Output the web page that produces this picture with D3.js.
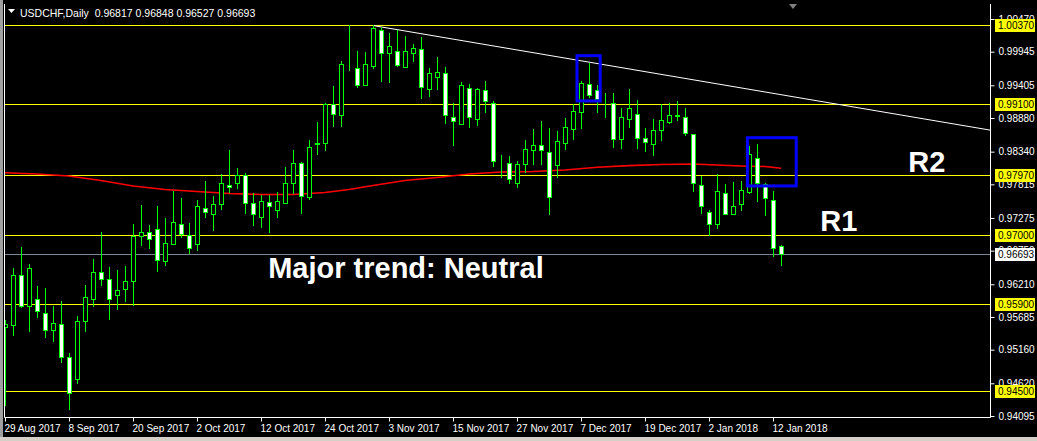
<!DOCTYPE html>
<html><head><meta charset="utf-8">
<script src="https://cdn.jsdelivr.net/npm/d3@7"></script>
<style>html,body{margin:0;padding:0;background:#000;overflow:hidden}svg{display:block}</style>
</head><body><svg id="c" width="1037" height="441"></svg>
<script>
// ---------- DATA ----------
const symbolTitle = "USDCHF,Daily";
const lastOHLC = ["0.96817", "0.96848", "0.96527", "0.96693"];
const opens = [0.95524,0.95552,0.96354,0.95862,0.95969,0.95744,0.95476,0.95568,0.95038,0.94694,
0.95616,0.95979,0.96403,0.96290,0.96033,0.96130,0.96258,0.96986,0.97050,0.97093,
0.96579,0.96852,0.97174,0.96997,0.96852,0.97440,0.97334,0.97495,0.97800,0.97832,
0.97965,0.97511,0.97296,0.97527,0.97398,0.97520,0.97832,0.98153,0.97607,0.98463,
0.98484,0.99101,0.98934,0.99716,0.99679,0.99415,0.99720,1.00294,0.99920,0.99952,
0.99704,0.99920,0.99984,0.99351,0.99544,0.99598,0.98902,0.98789,0.99367,0.98869,
0.99335,0.99126,0.98185,0.98153,0.97842,0.98137,0.98362,0.98442,0.98330,0.98121,
0.98474,0.98699,0.98972,0.99422,0.99325,0.99117,0.99117,0.98539,0.98869,0.98940,
0.98555,0.98458,0.98683,0.98812,0.98917,0.98892,0.98619,0.97800,0.97366,0.97174,
0.97671,0.97334,0.97495,0.97687,0.98233,0.97816,0.97559,0.96817];
const highs = [0.95637,0.96472,0.96804,0.96536,0.96183,0.96151,0.95862,0.95937,0.95102,0.95701,
0.96194,0.96611,0.97050,0.96483,0.96440,0.96504,0.97178,0.97483,0.97162,0.97467,
0.97275,0.97708,0.97596,0.97199,0.97564,0.97864,0.97628,0.97981,0.98367,0.98078,
0.97993,0.97671,0.97639,0.97639,0.97692,0.98094,0.98367,0.98174,0.98527,0.98816,
0.99117,0.99394,0.99801,1.00374,0.99957,0.99940,1.00379,1.00347,1.00241,1.00299,
1.00193,1.00069,1.00177,0.99679,0.99860,0.99700,0.99117,0.99459,0.99422,0.99367,
0.99475,0.99154,0.98282,0.98270,0.98185,0.98527,0.98699,0.98828,0.98715,0.98667,
0.98876,0.99101,0.99470,0.99769,0.99406,0.99277,0.99277,0.99036,0.99342,0.99165,
0.98715,0.98860,0.99101,0.99117,0.99149,0.99036,0.98619,0.97944,0.97398,0.97977,
0.97816,0.97848,0.97864,0.98426,0.98458,0.97832,0.97704,0.96848];
const lows = [0.94272,0.95391,0.95841,0.95465,0.95680,0.95359,0.95295,0.94962,0.94212,0.94630,
0.95455,0.95862,0.96194,0.95658,0.95809,0.95947,0.95882,0.96841,0.96793,0.96428,
0.96525,0.96852,0.96965,0.96708,0.96761,0.97286,0.97087,0.97424,0.97697,0.97752,
0.97350,0.97167,0.97125,0.97055,0.97296,0.97511,0.97671,0.97360,0.97575,0.98302,
0.98367,0.98752,0.98752,0.99651,0.99383,0.99411,0.99688,0.99480,0.99464,0.99720,
0.99704,0.99801,0.99202,0.99234,0.99346,0.98805,0.98452,0.98789,0.98741,0.98773,
0.98982,0.98115,0.97938,0.97832,0.97777,0.98018,0.98137,0.98137,0.97344,0.97928,
0.98378,0.98548,0.98725,0.99213,0.98972,0.98902,0.98420,0.98394,0.98731,0.98394,
0.98346,0.98282,0.98523,0.98796,0.98844,0.98603,0.97704,0.97350,0.96997,0.97109,
0.97334,0.97334,0.97398,0.97671,0.97543,0.97318,0.96660,0.96527];
const closes = [0.95572,0.96354,0.95862,0.96467,0.95776,0.95476,0.95584,0.95038,0.94460,0.95616,
0.96001,0.96403,0.96290,0.95969,0.96114,0.96258,0.96986,0.97050,0.96942,0.96600,
0.96868,0.97206,0.97018,0.96788,0.97463,0.97366,0.97495,0.97832,0.97768,0.97965,
0.97511,0.97334,0.97543,0.97463,0.97543,0.97832,0.98153,0.97628,0.98410,0.98479,
0.99101,0.98945,0.99748,0.99720,0.99415,0.99748,1.00326,0.99929,1.00032,0.99737,
0.99952,1.00000,0.99383,0.99598,0.99615,0.98934,0.98828,0.99406,0.98902,0.99342,
0.99149,0.98195,0.98190,0.97896,0.98137,0.98378,0.98442,0.98362,0.97607,0.98506,
0.98731,0.98988,0.99438,0.99245,0.99181,0.99114,0.98539,0.98892,0.99036,0.98555,
0.98490,0.98683,0.98844,0.98924,0.98924,0.98635,0.97832,0.97463,0.97174,0.97704,
0.97334,0.97463,0.97720,0.98298,0.97832,0.97591,0.96788,0.96693];

// moving average (red) read at a few bars
const maBars = [0,4,8,12,16,20,24,28,32,36,40,43,46,50,54,58,62,66,70,74,78,82,86,89,92,95,97];
const maVals = [0.98002,0.97981,0.97949,0.97877,0.97789,0.97732,0.97700,0.97668,0.97652,0.97652,0.97684,0.97732,0.97797,0.97877,0.97925,0.97981,0.98013,0.98021,0.98046,0.98089,0.98115,0.98134,0.98142,0.98126,0.98110,0.98102,0.98073];

// x axis labels and the bar they sit on
const xTickLabels = ["29 Aug 2017","8 Sep 2017","20 Sep 2017","2 Oct 2017","12 Oct 2017","24 Oct 2017","3 Nov 2017","15 Nov 2017","27 Nov 2017","7 Dec 2017","19 Dec 2017","2 Jan 2018","12 Jan 2018"];
const xTickBars = [0,8,16,24,32,40,48,56,64,72,80,88,96];

// price scale ticks
const yTicks = [1.00470,0.99945,0.99405,0.98880,0.98340,0.97815,0.97275,0.96750,0.96210,0.95685,0.95160,0.94620,0.94095];

// horizontal support / resistance levels
const levels = [1.00370,0.99100,0.97970,0.97000,0.95900,0.94500];
const lastPrice = 0.96693;

// trendline (bar, price)
const trendBars = [46,124];
const trendVals = [1.00365,0.98667];

// blue boxes [bar0, bar1, priceTop, priceBottom]
const boxBar0 = [71.5, 92.8];
const boxBar1 = [74.4, 98.9];
const boxTop = [0.99881, 0.98564];
const boxBottom = [0.99154, 0.97789];

// text annotations
const noteTexts = ["Major trend: Neutral","R2","R1"];
const noteBars = [32.9, 112.9, 101.9];
const noteVals = [0.96308, 0.98015, 0.97068];

// ---------- DRAW ----------
const svg = d3.select("#c");
const W = 1037, H = 441;
const L = 4, R = 990, T = 4, B = 417;
const green = "#00ff00", yellow = "#ffff00";

svg.append("rect").attr("width", W).attr("height", H).attr("fill", "#000");
// window frame strips
svg.append("rect").attr("x",0).attr("y",0).attr("width",3).attr("height",H).attr("fill","#a0a0a0");
svg.append("rect").attr("x",0).attr("y",437).attr("width",W).attr("height",4).attr("fill","#d4d0c8");

const x = d3.scaleLinear().domain([0, 97]).range([5, 781]);
const y = d3.scaleLinear().domain([0.94095, 1.00470]).range([416, 19]);
const px = v => Math.round(v);

svg.append("defs").append("clipPath").attr("id","clip")
  .append("rect").attr("x", L+1).attr("y", T+1).attr("width", R-L-1).attr("height", B-T-1);
const plot = svg.append("g").attr("clip-path","url(#clip)");

// levels
plot.selectAll("line.lev").data(levels).join("line")
  .attr("x1", L).attr("x2", R)
  .attr("y1", d => px(y(d))+0.5).attr("y2", d => px(y(d))+0.5)
  .attr("stroke", yellow).attr("stroke-width", 1);
plot.append("line").attr("x1", L).attr("x2", R)
  .attr("y1", px(y(lastPrice))+0.5).attr("y2", px(y(lastPrice))+0.5)
  .attr("stroke", "#778899").attr("stroke-width", 1);

// MA
plot.append("path").datum(maBars.map((b,i)=>[b, maVals[i]]))
  .attr("d", d3.line().x(d=>x(d[0])).y(d=>y(d[1])))
  .attr("fill","none").attr("stroke","#ff0000").attr("stroke-width",1.6);

// trendline
plot.append("path").datum(trendBars.map((b,i)=>[b, trendVals[i]]))
  .attr("d", d3.line().x(d=>x(d[0])).y(d=>y(d[1])))
  .attr("fill","none").attr("stroke","#ffffff").attr("stroke-width",1);

// candles
const idx = d3.range(opens.length);
const cg = plot.append("g");
cg.selectAll("line.wick").data(idx).join("line")
  .attr("x1", i => px(x(i))+0.5).attr("x2", i => px(x(i))+0.5)
  .attr("y1", i => px(y(highs[i]))).attr("y2", i => px(y(lows[i]))+1)
  .attr("stroke", green).attr("stroke-width", 1);
cg.selectAll("rect.body").data(idx).join("rect")
  .attr("x", i => px(x(i))-1.5)
  .attr("width", 4)
  .attr("y", i => px(y(Math.max(opens[i], closes[i])))+0.5)
  .attr("height", i => Math.max(0, px(y(Math.min(opens[i], closes[i]))) - px(y(Math.max(opens[i], closes[i])))))
  .attr("fill", i => closes[i] < opens[i] ? "#ffffff" : "#000000")
  .attr("stroke", green).attr("stroke-width", 1);

// blue boxes
plot.selectAll("rect.box").data(boxBar0.map((b,i)=>i)).join("rect")
  .attr("x", i => x(boxBar0[i])).attr("width", i => x(boxBar1[i]) - x(boxBar0[i]))
  .attr("y", i => y(boxTop[i])).attr("height", i => y(boxBottom[i]) - y(boxTop[i]))
  .attr("fill","none").attr("stroke","#0000ff").attr("stroke-width",3);

// annotations
svg.selectAll("text.note").data(noteTexts).join("text")
  .attr("x", (d,i) => x(noteBars[i])).attr("y", (d,i) => y(noteVals[i]))
  .attr("fill","#ffffff").attr("font-family","'Liberation Sans', Arial, sans-serif")
  .attr("font-weight","bold").attr("font-size", 29).text(d => d);

// header
svg.append("path").attr("d","M8,9 L15,9 L11.5,13 Z").attr("fill","#fff");
svg.append("text").attr("x", 20).attr("y", 17)
  .attr("fill","#ffffff").attr("font-family","'Liberation Sans', Arial, sans-serif").attr("font-size", 10.5)
  .attr("xml:space","preserve")
  .text(symbolTitle + "  " + lastOHLC.join(" "));
// chart shift marker
svg.append("path").attr("d","M789,4 L797,4 L793,9 Z").attr("fill","#808080");

// frame
svg.append("path").attr("d", `M${L+0.5},${T} V${B+0.5} H${R+0.5} V${T}`)
  .attr("fill","none").attr("stroke","#ffffff").attr("stroke-width",1);

// right axis
const yAxis = d3.axisRight(y).tickValues(yTicks).tickFormat(d3.format(".5f")).tickSize(4).tickPadding(4);
const ya = svg.append("g").attr("transform", `translate(${R+0.5},0)`).call(yAxis);
ya.select(".domain").remove();
ya.selectAll(".tick line").attr("stroke","#ffffff");
ya.selectAll(".tick text").attr("fill","#ffffff")
  .attr("font-family","'Liberation Sans', Arial, sans-serif").attr("font-size", 10);

// highlighted level labels
const hl = svg.append("g");
const allLabels = levels.map(v => ({v, bg: yellow})).concat([{v: lastPrice, bg: "#ffffff"}]);
hl.selectAll("rect").data(allLabels).join("rect")
  .attr("x", R+5).attr("width", 40).attr("y", d => px(y(d.v)) - 6).attr("height", 13)
  .attr("fill", d => d.bg);
hl.selectAll("text").data(allLabels).join("text")
  .attr("x", R+8).attr("y", d => px(y(d.v)) + 4)
  .attr("fill", "#000").attr("font-family","'Liberation Sans', Arial, sans-serif").attr("font-size", 10)
  .text(d => d3.format(".5f")(d.v));

// bottom axis
const xAxis = d3.axisBottom(x).tickValues(xTickBars).tickFormat((d,i) => xTickLabels[i]).tickSize(4).tickPadding(3);
const xa = svg.append("g").attr("transform", `translate(0,${B+0.5})`).call(xAxis);
xa.select(".domain").remove();
xa.selectAll(".tick line").attr("stroke","#ffffff");
xa.selectAll(".tick text").attr("fill","#ffffff").attr("text-anchor","start").attr("dx", -1)
  .attr("font-family","'Liberation Sans', Arial, sans-serif").attr("font-size", 10);
</script></body></html>
